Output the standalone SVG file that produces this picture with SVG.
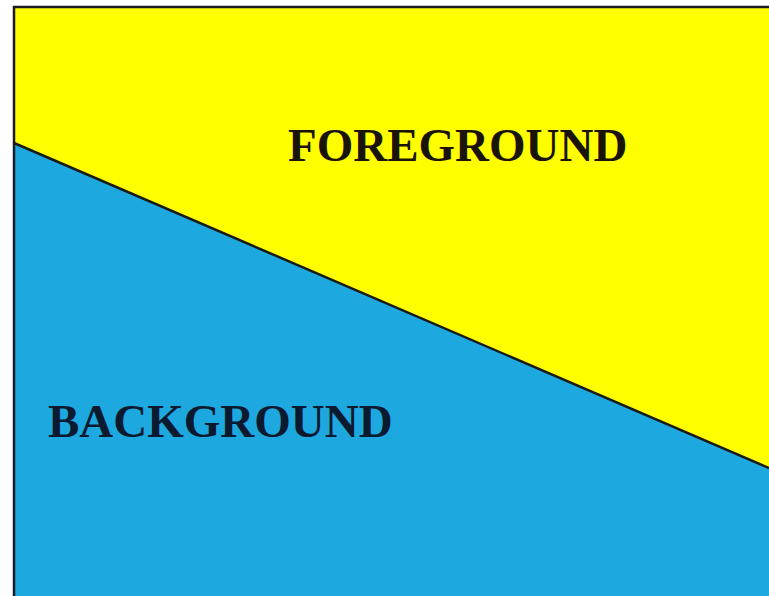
<svg xmlns="http://www.w3.org/2000/svg" width="769" height="596" viewBox="0 0 769 596">
<style>
.lbl{font-family:"Liberation Serif","Times New Roman",serif;font-weight:bold;font-size:47px}
</style>
<rect x="0" y="0" width="769" height="596" fill="#ffffff"/>
<polygon points="14,7 769,7 769,468 14,143" fill="#ffff00"/>
<polygon points="14,143 769,468 769,596 14,596" fill="#1ea8e0"/>
<polyline points="14,596 14,7 769,7" fill="none" stroke="#1b1b22" stroke-width="2.5"/>
<line x1="14" y1="143" x2="769" y2="468" stroke="#1a1a12" stroke-width="2.5"/>
<text class="lbl" x="288" y="161" fill="#1a1408">FOREGROUND</text>
<text class="lbl" x="48" y="437" fill="#0c1a30">BACKGROUND</text>
</svg>
